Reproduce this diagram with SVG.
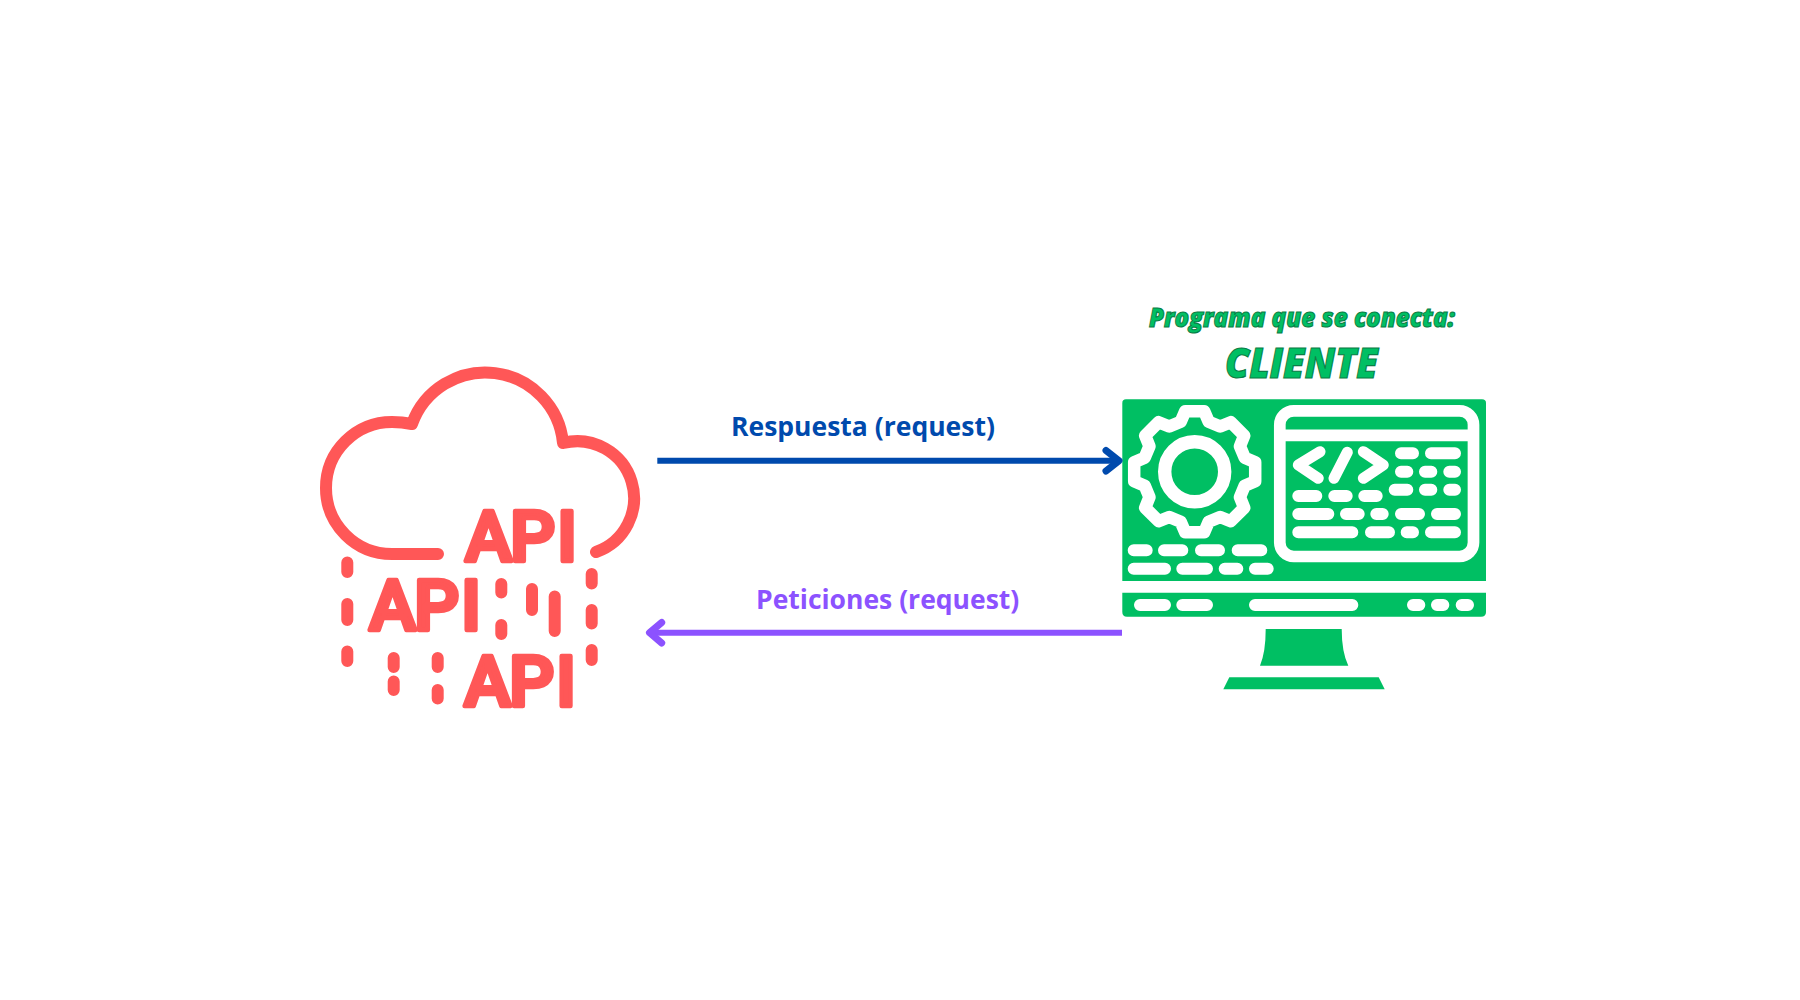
<svg xmlns="http://www.w3.org/2000/svg" width="1800" height="1000" viewBox="0 0 1800 1000">
<style>
.cloud{fill:none;stroke:#ff5757;stroke-width:12;stroke-linecap:round;stroke-linejoin:round}
.api{font-family:"Roboto","Liberation Sans",sans-serif;font-weight:500;font-size:71px;fill:#ff5757;stroke:#ff5757;stroke-width:4.5;stroke-linejoin:round}
.g{fill:#00bf63}
.w{fill:none;stroke:#fff;stroke-linecap:round;stroke-linejoin:round}
.head{font-family:"Open Sans",sans-serif;font-weight:800;font-style:italic;fill:#00bf63;stroke:#0a7d45;stroke-width:1.1}
.lbl{font-family:"Open Sans",sans-serif;font-weight:700;font-size:26.5px}
.conn{fill:none;stroke-linejoin:round}
</style>
<rect width="1800" height="1000" fill="#fff"/>
<g id="api-cloud">
<path class="cloud" d="M438 554H392A66 66 0 0 1 392 422Q402 422 412 424A78 78 0 0 1 563 443A57 57 0 0 1 596 552"/>
<text class="api" x="465 510 557" y="561">API</text>
<text class="api" x="369 414 461" y="630">API</text>
<text class="api" x="464 509 556" y="706">API</text>
<path class="cloud" d="M347.3 562.5V572M347.3 604V620M347.3 651.5V661M591.7 574V583.5M591.7 610V623.5M591.7 650V660M501.3 584V592.5M501.3 625V634M532 589V610M554.7 596.5V631M393.7 658V667M393.7 681.5V690M437.7 658V667M437.7 690V698.5"/>
</g>
<g id="cliente">
<text class="head" x="1149" y="327" font-size="27" textLength="306" lengthAdjust="spacingAndGlyphs">Programa que se conecta:</text>
<text class="head" x="1225" y="377.5" font-size="42" textLength="153" lengthAdjust="spacingAndGlyphs">CLIENTE</text>
<path class="g" d="M1122.3 581V403Q1122.3 399.3 1126 399.3H1482Q1486 399.3 1486 403V581Z"/>
<path class="g" d="M1122.3 592.7H1486V612Q1486 616.7 1481 616.7H1127Q1122.3 616.7 1122.3 612Z"/>
<path class="g" d="M1265.7 629H1341.7Q1341.7 652 1348.3 665.7H1260Q1265.7 652 1265.7 629Z"/>
<path class="g" d="M1229.3 677.3H1378.7L1384.7 689.3H1223.3Z"/>
<polygon transform="translate(1194.7 471.7)" points="-14,-50 -9.5,-60.5 9.5,-60.5 14,-50 25.46,-45.25 36.06,-49.5 49.5,-36.06 45.25,-25.46 50,-14 60.5,-9.5 60.5,9.5 50,14 45.25,25.46 49.5,36.06 36.06,49.5 25.46,45.25 14,50 9.5,60.5 -9.5,60.5 -14,50 -25.46,45.25 -36.06,49.5 -49.5,36.06 -45.25,25.46 -50,14 -60.5,9.5 -60.5,-9.5 -50,-14 -45.25,-25.46 -49.5,-36.06 -36.06,-49.5 -25.46,-45.25" style="fill:none;stroke:#fff;stroke-width:12.5;stroke-linejoin:round"/>
<circle cx="1194.7" cy="471.7" r="30" fill="none" stroke="#fff" stroke-width="13.4"/>
<rect x="1279.8" y="410.8" width="193.7" height="145.7" rx="14" fill="none" stroke="#fff" stroke-width="11.7"/>
<path class="w" stroke-width="11.7" style="stroke-linecap:butt" d="M1279.8 435.3H1473.5"/>
<path class="w" stroke-width="11" d="M1320 451.7L1298.3 465L1318.3 478.3M1347.3 452.3L1334 478.3M1363.3 451.7L1383.3 465L1363.3 478.3"/>
<path class="w" stroke-width="12" d="M1401 453.3H1413M1431 453.3H1455M1401 471.7H1407.3M1425 471.7H1431.3M1449.3 471.7H1455M1394.7 489.7H1407.3M1425 489.7H1431.3M1449.3 489.7H1455M1298.3 496H1316.3M1334.3 496H1346.7M1364.3 496H1376.7M1298.3 514H1328.3M1346 514H1358.7M1376.3 514H1382.7M1401 514H1419M1437 514H1455M1298.3 532.3H1352.3M1371 532.3H1389M1406.7 532.3H1413M1431 532.3H1455M1133.7 550.3H1146.7M1164 550.3H1182.3M1201 550.3H1219M1237.7 550.3H1261.3M1133.7 568.7H1165M1182.3 568.7H1207M1224.7 568.7H1237.3M1255 568.7H1267.7M1140 605H1165M1182.3 605H1207M1255 605H1352.3M1413 605H1419.3M1437 605H1443.3M1461.7 605H1468"/>
</g>
<g id="connectors">
<path class="conn" stroke="#004aad" stroke-width="6" d="M657.3 460.7H1118"/>
<path class="conn" stroke="#004aad" stroke-width="7" stroke-linecap="round" d="M1106 450.5L1119 460.7L1106 471"/>
<path class="conn" stroke="#8c52ff" stroke-width="6" d="M1122 632.7H650"/>
<path class="conn" stroke="#8c52ff" stroke-width="7" stroke-linecap="round" d="M661.7 622.5L649.5 632.7L661.7 643"/>
</g>
<text class="lbl" x="731" y="436" fill="#004aad">Respuesta (request)</text>
<text class="lbl" x="756" y="609" fill="#8c52ff">Peticiones (request)</text>
</svg>
